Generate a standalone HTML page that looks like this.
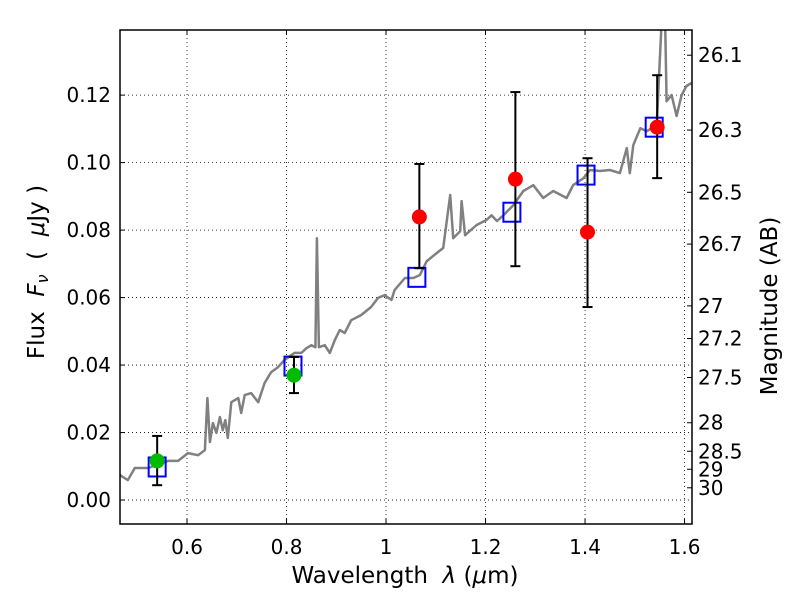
<!DOCTYPE html>
<html><head><meta charset="utf-8"><style>
html,body{margin:0;padding:0;background:#fff;}
svg{display:block;font-family:"DejaVu Sans","Liberation Sans",sans-serif;}
</style></head><body>
<svg id="chart" width="800" height="600" viewBox="0 0 800 600">
<rect width="800" height="600" fill="#fff"/>
<g id="grid"></g>
<g id="plot"></g>
<g id="axes"></g>
<text x="405" y="583" font-size="23" text-anchor="middle">Wavelength&#160;&#160;<tspan font-style="italic">λ</tspan> (<tspan font-style="italic">μ</tspan>m)</text>
<text transform="translate(44,272) rotate(-90)" font-size="23" text-anchor="middle">Flux&#160;&#160;<tspan font-style="italic">F<tspan font-size="16" dy="4">ν</tspan></tspan><tspan dy="-4">&#160;&#160;(&#160;&#160;<tspan font-style="italic">μ</tspan>Jy&#160;)</tspan></text>
<text transform="translate(777,306) rotate(-90)" font-size="23" text-anchor="middle">Magnitude (AB)</text>
</svg>
<script>
const specWave=[0.465,0.481,0.495,0.522,0.562,0.582,0.602,0.622,0.636,0.641,0.646,0.652,0.659,0.666,0.672,0.677,0.682,0.689,0.703,0.709,0.716,0.729,0.743,0.756,0.769,0.783,0.796,0.816,0.830,0.840,0.850,0.858,0.861,0.865,0.877,0.887,0.897,0.907,0.917,0.930,0.950,0.970,0.984,0.997,1.011,1.017,1.038,1.055,1.068,1.082,1.102,1.115,1.129,1.135,1.149,1.152,1.159,1.182,1.202,1.212,1.223,1.236,1.256,1.276,1.296,1.316,1.336,1.363,1.376,1.397,1.410,1.430,1.450,1.470,1.484,1.490,1.497,1.511,1.524,1.544,1.554,1.561,1.564,1.574,1.584,1.594,1.604,1.614];
const specFlux=[0.0074,0.0059,0.0095,0.0095,0.0116,0.0116,0.0139,0.0133,0.0148,0.0302,0.0172,0.0228,0.0199,0.0246,0.0207,0.0237,0.0184,0.0290,0.0302,0.0258,0.0311,0.0317,0.0290,0.0347,0.0379,0.0394,0.0415,0.0436,0.0436,0.0450,0.0459,0.0453,0.0776,0.0453,0.0459,0.0436,0.0474,0.0504,0.0495,0.0533,0.0548,0.0572,0.0599,0.0607,0.0593,0.0622,0.0658,0.0658,0.0667,0.0708,0.0732,0.0747,0.0904,0.0776,0.0797,0.0886,0.0785,0.0815,0.0830,0.0844,0.0827,0.0844,0.0874,0.0916,0.0933,0.0895,0.0916,0.0895,0.0933,0.0954,0.0978,0.0975,0.0978,0.0969,0.1043,0.0969,0.1052,0.1102,0.1093,0.1111,0.1422,0.1422,0.1182,0.1200,0.1138,0.1200,0.1227,0.1236];
const modelWave=[0.540,0.813,1.062,1.253,1.402,1.539];
const modelFlux=[0.0098,0.0397,0.0660,0.0853,0.0963,0.1105];
const greenWave=[0.540,0.815];
const greenFlux=[0.0116,0.0370];
const greenLo=[0.0044,0.0317];
const greenHi=[0.0190,0.0424];
const redWave=[1.067,1.260,1.405,1.545];
const redFlux=[0.0839,0.0951,0.0794,0.1105];
const redLo=[0.0687,0.0693,0.0572,0.0954];
const redHi=[0.0996,0.1209,0.1013,0.1259];
const xTicks=[0.6,0.8,1.0,1.2,1.4,1.6];
const xTickLabels=["0.6","0.8","1","1.2","1.4","1.6"];
const yTicks=[0,0.02,0.04,0.06,0.08,0.10,0.12];
const yTickLabels=["0.00","0.02","0.04","0.06","0.08","0.10","0.12"];
const magTicks=[26.1,26.3,26.5,26.7,27,27.2,27.5,28,28.5,29,30];
const magTickLabels=["26.1","26.3","26.5","26.7","27","27.2","27.5","28","28.5","29","30"];

const L=120,R=692,T=30,B=524;
const xMin=0.4653,xMax=1.615,yMin=-0.0071,yMax=0.1393;
const X=v=>L+(v-xMin)/(xMax-xMin)*(R-L);
const Y=v=>B-(v-yMin)/(yMax-yMin)*(B-T);
const NS='http://www.w3.org/2000/svg';
function mk(tag,attrs,parent){const e=document.createElementNS(NS,tag);for(const k in attrs)e.setAttribute(k,attrs[k]);parent.appendChild(e);return e;}
const grid=document.getElementById('grid'),plot=document.getElementById('plot'),axes=document.getElementById('axes');

const defs=mk('defs',{},document.getElementById('chart'));
const cp=mk('clipPath',{id:'clip'},defs);
mk('rect',{x:L,y:T,width:R-L,height:B-T},cp);
plot.setAttribute('clip-path','url(#clip)');

xTicks.forEach((t,i)=>{
  const x=X(t);
  const g=mk('line',{x1:x,x2:x,y1:T,y2:B,stroke:'#000','stroke-width':0.8,'stroke-dasharray':'1,3'},grid);
  
  
  mk('line',{x1:x,x2:x,y1:B,y2:B-5,stroke:'#000','stroke-width':1},axes);
  mk('line',{x1:x,x2:x,y1:T,y2:T+5,stroke:'#000','stroke-width':1},axes);
  const tx=mk('text',{x:x,y:B+30,'font-size':20,'text-anchor':'middle'},axes);
  tx.textContent=xTickLabels[i];
  
  
});
yTicks.forEach((t,i)=>{
  const y=Y(t);
  const g=mk('line',{x1:L,x2:R,y1:y,y2:y,stroke:'#000','stroke-width':0.8,'stroke-dasharray':'1,3'},grid);
  
  
  mk('line',{x1:L,x2:L+5,y1:y,y2:y,stroke:'#000','stroke-width':1},axes);
  const tx=mk('text',{x:L-9,y:y+7,'font-size':20,'text-anchor':'end'},axes);
  tx.textContent=yTickLabels[i];
  
  
});
magTicks.forEach((m,i)=>{
  const f=Math.pow(10,(23.9-m)/2.5);
  const y=Y(f);
  mk('line',{x1:R-5,x2:R,y1:y,y2:y,stroke:'#000','stroke-width':1},axes);
  const tx=mk('text',{x:R+6,y:y+7,'font-size':20,'text-anchor':'start'},axes);
  tx.textContent=magTickLabels[i];
  
  
});

let d='';
specWave.forEach((w,i)=>{d+=(i?'L':'M')+X(w).toFixed(1)+','+Y(specFlux[i]).toFixed(1);});
const sp=mk('path',{d:d,fill:'none',stroke:'#808080','stroke-width':2.5,'stroke-linejoin':'round'},plot);



function errbar(x,lo,hi){
  const px=X(x);
  mk('line',{x1:px,x2:px,y1:Y(lo),y2:Y(hi),stroke:'#000','stroke-width':2},plot);
  mk('line',{x1:px-5,x2:px+5,y1:Y(lo),y2:Y(lo),stroke:'#000','stroke-width':2},plot);
  mk('line',{x1:px-5,x2:px+5,y1:Y(hi),y2:Y(hi),stroke:'#000','stroke-width':2},plot);
}
modelWave.forEach((w,i)=>{
  const r=mk('rect',{x:X(w)-8.5,y:Y(modelFlux[i])-9.5,width:17,height:19,fill:'none',stroke:'#0000ff','stroke-width':2},plot);
  
  
});
greenWave.forEach((w,i)=>{
  errbar(w,greenLo[i],greenHi[i]);
  const c=mk('circle',{cx:X(w),cy:Y(greenFlux[i]),r:7.5,fill:'#00bb00'},plot);
  
  
});
redWave.forEach((w,i)=>{
  errbar(w,redLo[i],redHi[i]);
  const c=mk('circle',{cx:X(w),cy:Y(redFlux[i]),r:7.5,fill:'#ff0000'},plot);
  
  
});
const frame=mk('rect',{x:L,y:T,width:R-L,height:B-T,fill:'none',stroke:'#000','stroke-width':1.5},axes);


</script>
</body></html>
